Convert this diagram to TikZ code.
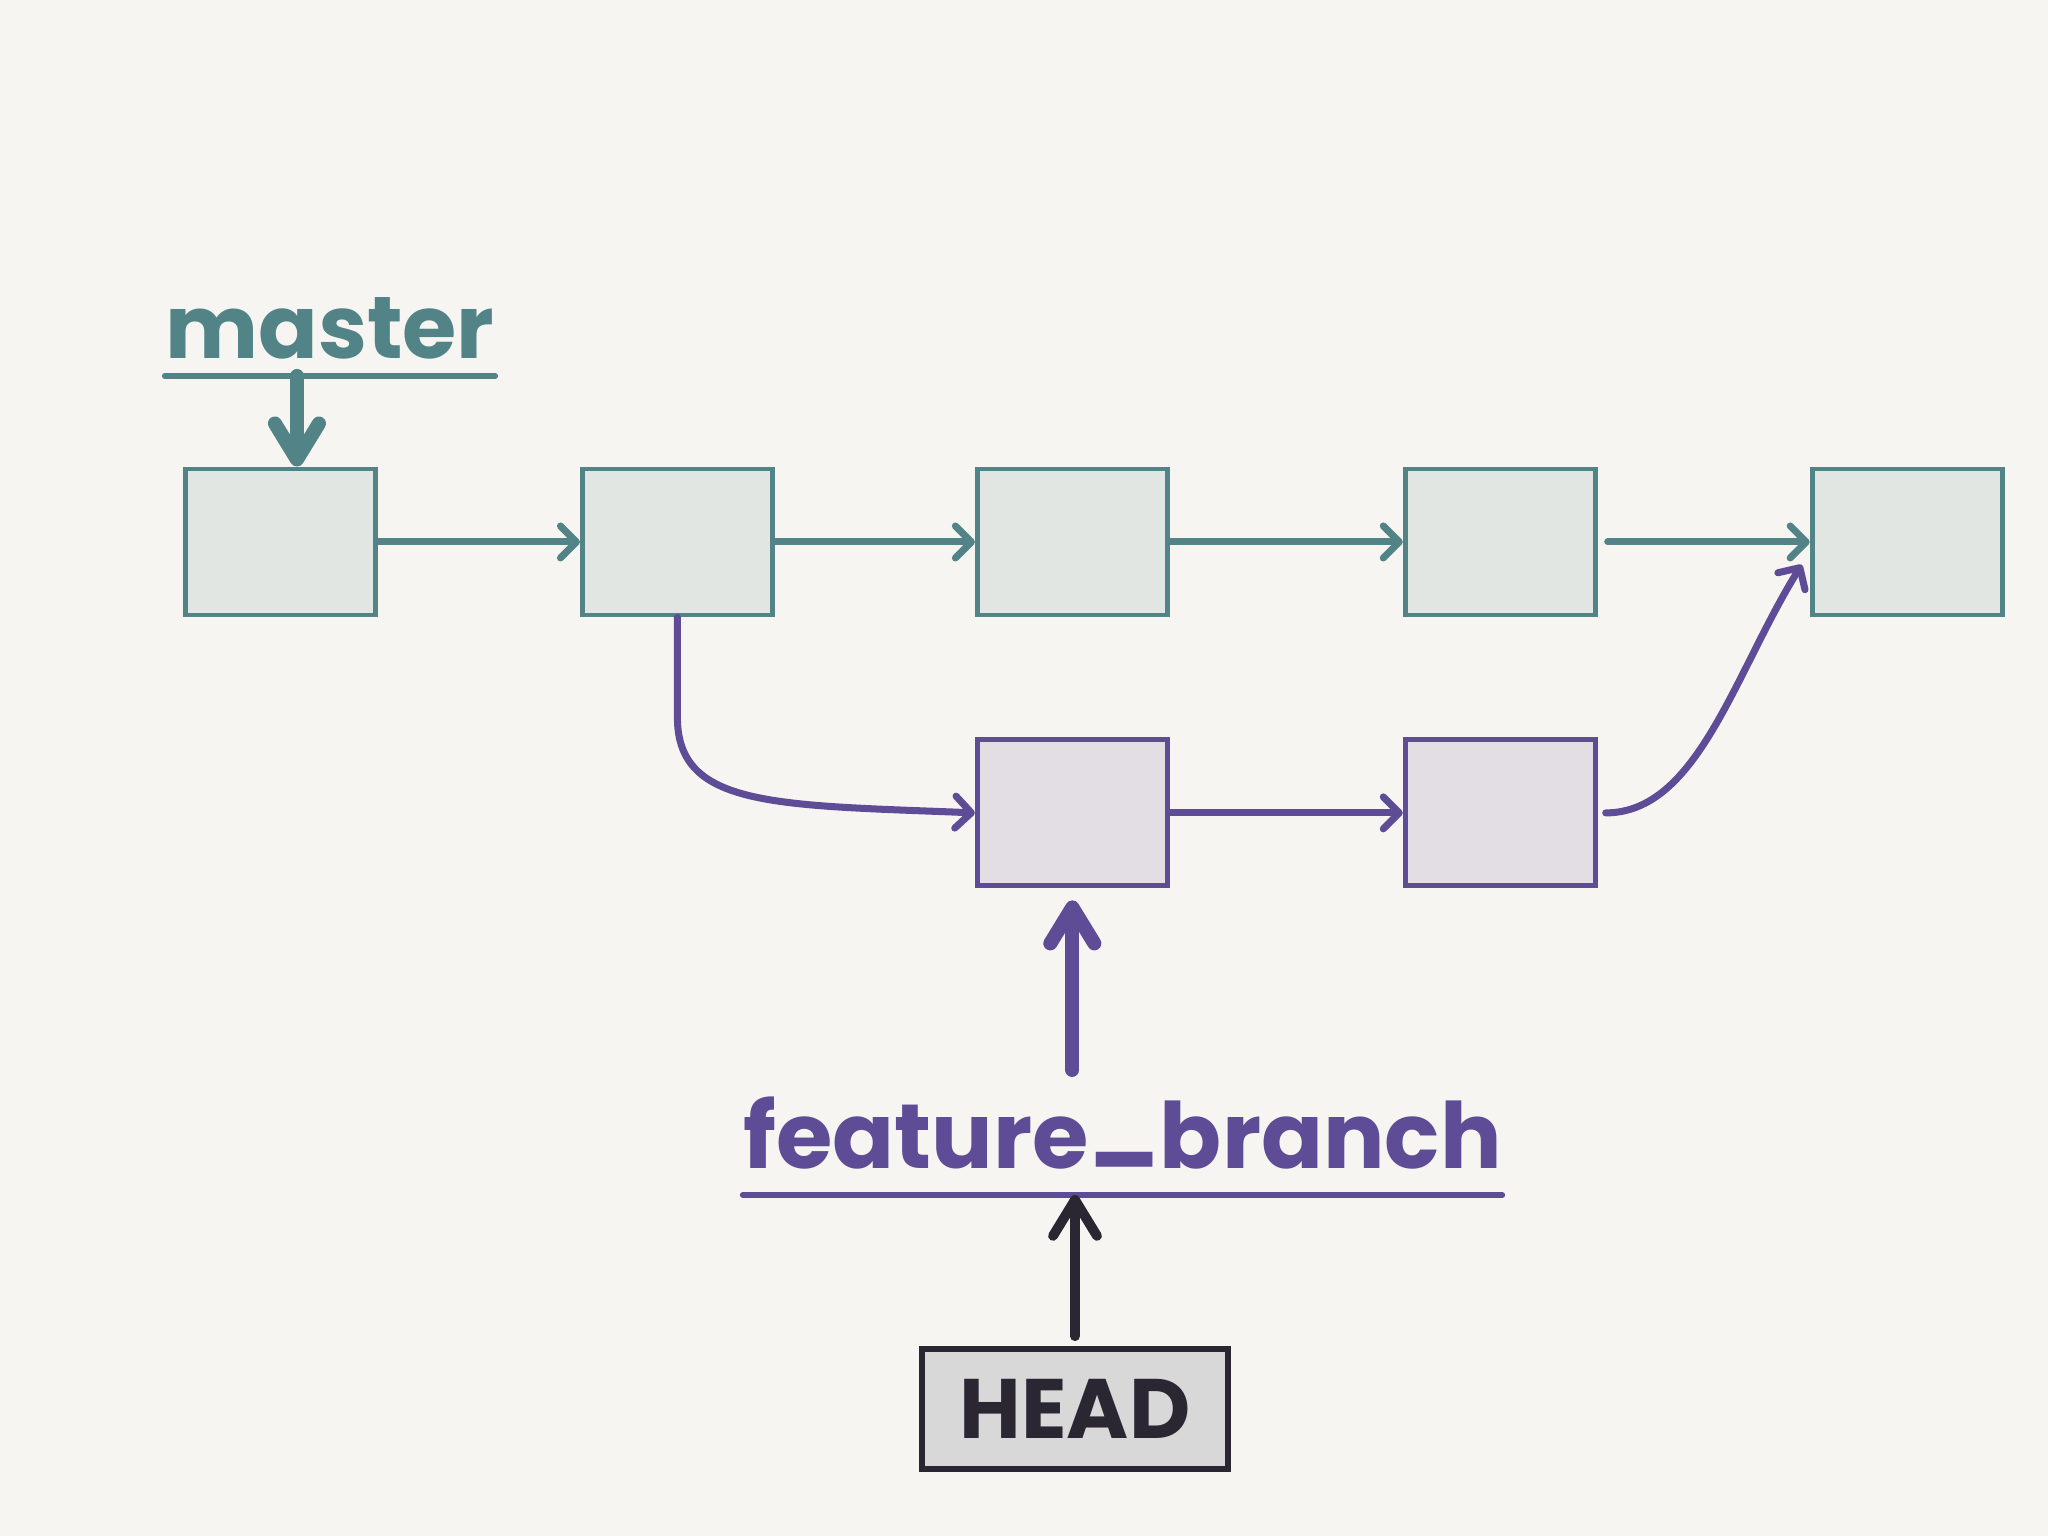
\documentclass[tikz,border=0pt]{standalone}
\usepackage{fontspec}
\setmainfont{Poppins}
\usetikzlibrary{arrows.meta, positioning, calc}
\definecolor{mastertone}{RGB}{82,131,134}
\definecolor{branchtone}{RGB}{95,76,150}
\definecolor{headtone}{RGB}{42,39,51}
\definecolor{masterfill}{RGB}{225,230,226}
\definecolor{branchfill}{RGB}{226,222,228}
\definecolor{headfill}{RGB}{216,216,216}
\definecolor{paper}{RGB}{246,245,242}
\tikzset{
  mcommit/.style={rectangle, draw=mastertone, fill=masterfill, line width=1.4pt,
                  minimum width=1.9cm, minimum height=1.46cm, inner sep=0pt},
  fcommit/.style={rectangle, draw=branchtone, fill=branchfill, line width=1.4pt,
                  minimum width=1.9cm, minimum height=1.46cm, inner sep=0pt},
  headbox/.style={rectangle, draw=headtone, fill=headfill, line width=1.6pt,
                  minimum width=3.06cm, minimum height=1.2cm, inner sep=0pt,
                  text=headtone, font=\fontsize{24}{24}\selectfont\bfseries},
  reflabel/.style={inner xsep=0pt, inner ysep=0.17cm, text depth=0pt,
                   font=\fontsize{26}{26}\selectfont\bfseries},
  underl/.style={line width=1.6pt, line cap=round},
  link/.style={-{Straight Barb[round, length=1.6mm, width=3.2mm]}, line width=2pt, line cap=round},
  pointer/.style={-{Straight Barb[round, length=3.6mm, width=4.4mm]}, line width=4pt, line cap=round}
}
\begin{document}
\begin{tikzpicture}[node distance=2.02cm]
    \fill[paper] (0,0) rectangle (20.48,15.36);
    \useasboundingbox (0,0) rectangle (20.48,15.36);
    % master line of commits
    \node[mcommit] (c1) at (2.805,9.94) {};
    \node[mcommit, right=of c1] (c2) {};
    \node[mcommit, right=2.0cm of c2] (c3) {};
    \node[mcommit, right=2.33cm of c3] (c4) {};
    \node[mcommit, right=2.12cm of c4] (c5) {};
    % feature branch commits
    \node[fcommit, below=1.2cm of c3] (c6) {};
    \node[fcommit, right=2.33cm of c6] (c7) {};
    % labels
    \node[reflabel, text=mastertone, anchor=south, font=\fontsize{25}{25}\selectfont\bfseries]
      (mst) at (3.3,11.6) {master};
    \node[reflabel, text=branchtone, anchor=south, inner ysep=0.26cm] (fb) at (11.225,3.41)
      {feature\raisebox{.22em}{\_}branch};
    \node[headbox] (hd) at (10.75,1.27) {HEAD};
    \draw[underl, mastertone] (mst.south west) -- (mst.south east);
    \draw[underl, branchtone] (fb.south west) -- (fb.south east);
    \coordinate (mptr) at ($(mst.south west)!0.4!(mst.south east)$);
    % commit links
    \draw[link, mastertone] (c1) -- (c2);
    \draw[link, mastertone] (c2) -- (c3);
    \draw[link, mastertone] (c3) -- (c4);
    \draw[link, mastertone, shorten <=1mm] (c4) -- (c5);
    \draw[link, branchtone] (c6) -- (c7);
    \draw[link, branchtone] (c2.south) -- ++(0,-1.0)
      .. controls +(0,-0.9) and +(-2.0,0.08) .. (c6.west);
    \draw[link, branchtone, shorten <=0.8mm, shorten >=1.5mm] (c7.east)
      .. controls +(1.0,0) and +(-0.75,-1.2) .. ([yshift=-1mm]c5.west);
    % pointers
    \draw[pointer, mastertone] (mptr) -- (mptr |- c1.north);
    \draw[pointer, branchtone, shorten >=1.2mm] (fb.north -| c6.south) -- (c6.south);
    \draw[pointer, headtone, line width=2.8pt, shorten <=1mm] (hd.north) -- (hd.north |- fb.south);
\end{tikzpicture}
\end{document}
